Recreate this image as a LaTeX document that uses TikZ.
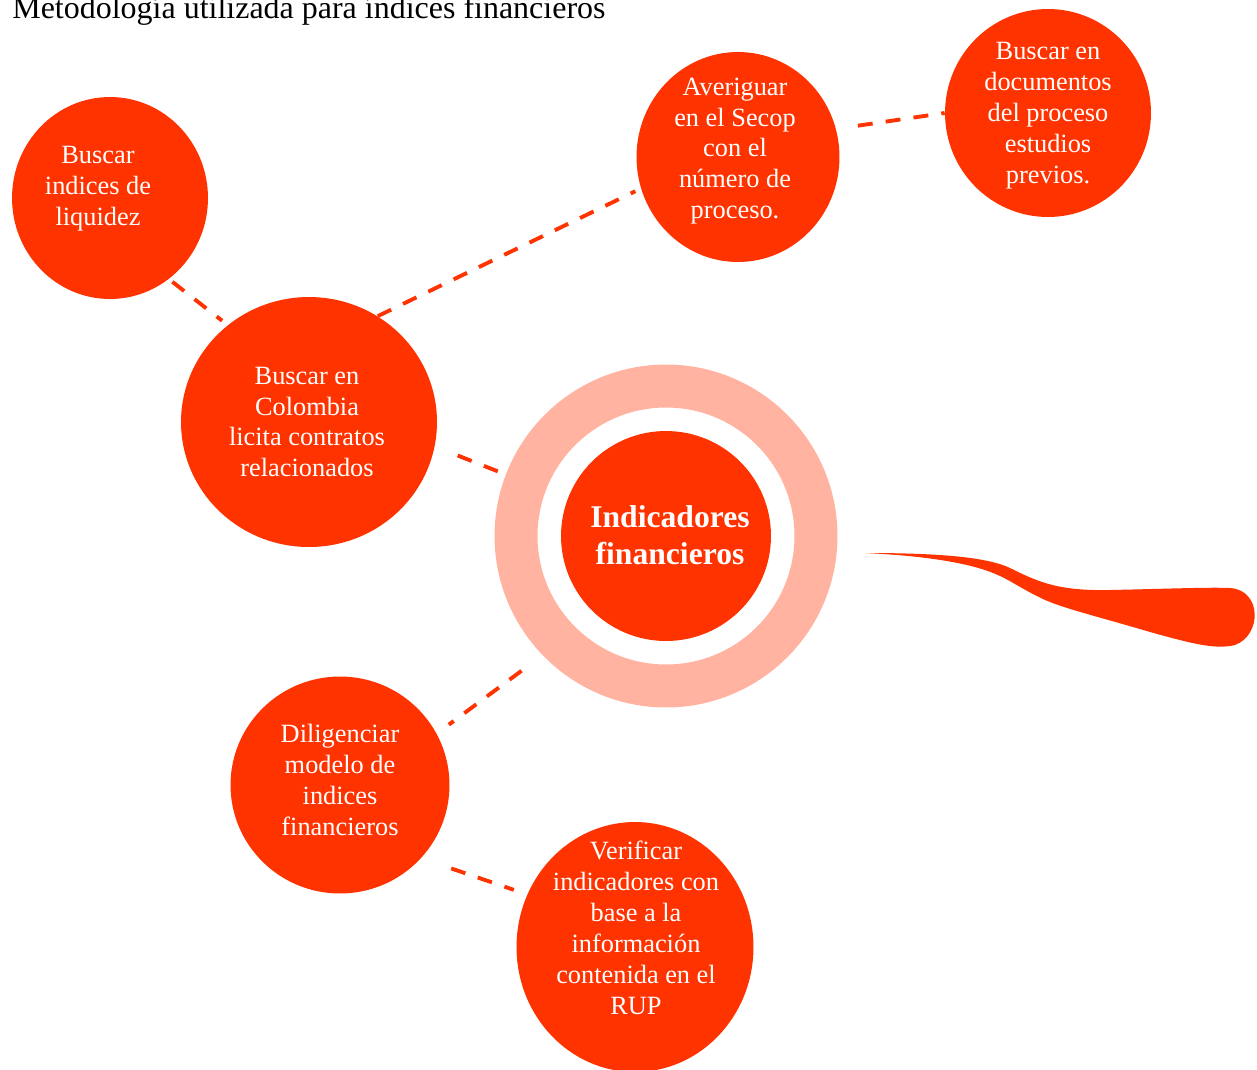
\documentclass[tikz,border=0pt]{standalone}
\usepackage{fontspec}
\setmainfont{Liberation Serif}
\usetikzlibrary{shapes.geometric}
\definecolor{metodorange}{RGB}{255,51,0}
\definecolor{metodsalmon}{RGB}{255,179,160}

\begin{document}
\begin{tikzpicture}[x=0.02cm,y=-0.02cm]

%
% Styles
%
\tikzstyle{bubble}     = [ellipse,fill=metodorange,inner sep=0pt]
\tikzstyle{bubbletext} = [text=white,align=center,font=\fontsize{15}{17.6}\selectfont]
\tikzstyle{dashlink}   = [draw=metodorange,line width=2.2pt,dash pattern=on 8.5pt off 7.5pt]

\useasboundingbox (0,0) rectangle (1257,1069);

\node[anchor=base west,inner sep=0pt,font=\fontsize{18.2}{21}\selectfont] (titulo) at (12,18) {Metodología utilizada para índices financieros};

% centre
\node[circle,draw=metodsalmon,line width=0.86cm,minimum size=6cm] (anillo) at (666,536) {};
\node[circle,fill=metodorange,minimum size=4.2cm,inner sep=0pt] (centro) at (666,536) {};
\node[bubbletext,font=\bfseries\fontsize{18}{21}\selectfont] (centrotxt) at (670,535) {Indicadores\\financieros};

% bubbles
\node[bubble,minimum width=3.92cm,minimum height=4.04cm] (liquidez) at (110,198) {};
\node[bubble,minimum width=5.12cm,minimum height=5cm] (colombia) at (309,422) {};
\node[bubble,minimum width=4.06cm,minimum height=4.2cm] (averiguar) at (738,157) {};
\node[bubble,minimum width=4.12cm,minimum height=4.16cm] (documentos) at (1048,113) {};
\node[bubble,minimum width=4.38cm,minimum height=4.34cm] (diligenciar) at (340,785) {};
\node[bubble,minimum width=4.74cm,minimum height=5cm] (verificar) at (635,947) {};

\node[bubbletext] (liquideztxt) at (98,189) {Buscar\\indices de\\liquidez};
\node[bubbletext] (colombiatxt) at (307,422) {Buscar en\\Colombia\\licita contratos\\relacionados};
\node[bubbletext] (averiguartxt) at (735,151) {Averiguar\\en el Secop\\con el\\número de\\proceso.};
\node[bubbletext] (documentostxt) at (1048,116) {Buscar en\\documentos\\del proceso\\estudios\\previos.};
\node[bubbletext] (diligenciartxt) at (340,780) {Diligenciar\\modelo de\\indices\\financieros};
\node[bubbletext] (verificartxt) at (636,928) {Verificar\\indicadores con\\base a la\\información\\contenida en el\\RUP};

% swoosh
\fill[metodorange] (865,553) .. controls (930,553) and (985,556) .. (1010,568)
  .. controls (1040,583) and (1060,591) .. (1110,590)
  .. controls (1160,589) and (1210,587) .. (1230,588)
  .. controls (1262,590) and (1262,635) .. (1235,645)
  .. controls (1215,650) and (1190,643) .. (1150,632)
  .. controls (1110,620) and (1070,610) .. (1050,602)
  .. controls (1030,594) and (1015,583) .. (1000,576)
  .. controls (975,564) and (930,556) .. cycle;

% links
\draw[dashlink,shorten <=2.5pt,shorten >=4pt] (liquidez.-54) -- (colombia.130);
\draw[dashlink,shorten >=3.5pt] (colombia.57) -- (averiguar.198);
\draw[dashlink,shorten <=12.5pt] (averiguar.16) -- (documentos.180);
\draw[dashlink,shorten <=14pt,shorten >=3.5pt] (colombia.-11) -- (anillo.159);
\draw[dashlink,shorten <=15pt,shorten >=8.5pt] (anillo.-136) -- (diligenciar.28);
\draw[dashlink,shorten <=18pt,shorten >=8pt] (diligenciar.-42) -- (verificar.154);

\end{tikzpicture}
\end{document}
